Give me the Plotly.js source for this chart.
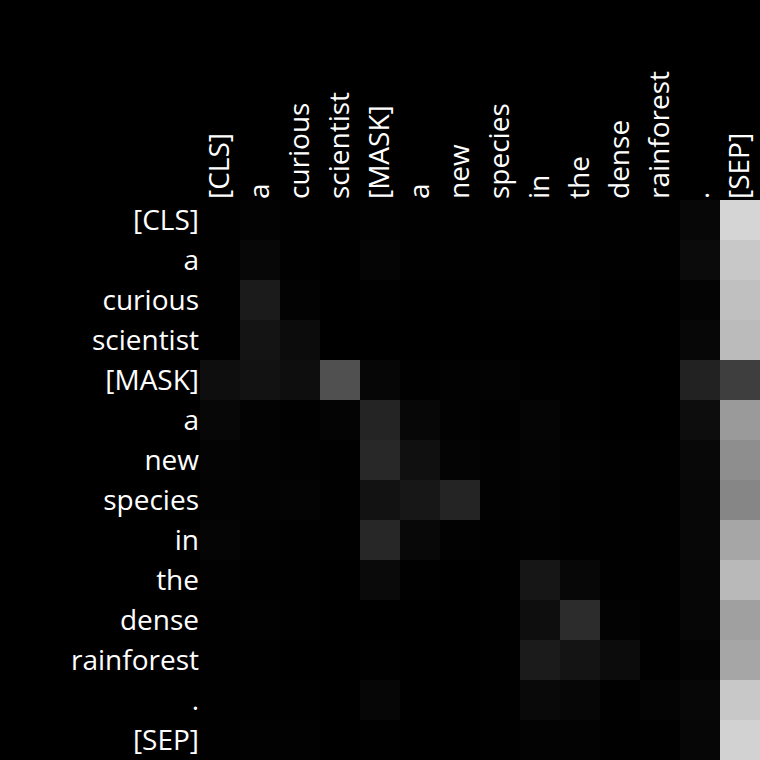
<!DOCTYPE html>
<html>
<head>
<meta charset="utf-8">
<script src="https://cdn.plot.ly/plotly-3.0.1.min.js"></script>
<style>html,body{margin:0;padding:0;background:#000;}#chart{width:760px;height:760px;}</style>
</head>
<body>
<div id="chart"></div>
<script>
const tokens = ["[CLS]","a","curious","scientist","[MASK]","a","new","species","in","the","dense","rainforest",".","[SEP]"];
const positions = [0,1,2,3,4,5,6,7,8,9,10,11,12,13];

// attention weights (row = query token, column = key token)
const attention = [
  [0.004,0.012,0.004,0.004,0.008,0.004,0.004,0.004,0.004,0.004,0.004,0.004,0.027,0.835],
  [0.004,0.027,0.004,0.000,0.020,0.004,0.004,0.004,0.004,0.004,0.004,0.004,0.043,0.784],
  [0.004,0.106,0.012,0.000,0.004,0.000,0.000,0.004,0.004,0.008,0.000,0.000,0.016,0.753],
  [0.004,0.078,0.047,0.000,0.000,0.000,0.000,0.000,0.000,0.000,0.000,0.000,0.027,0.733],
  [0.055,0.071,0.055,0.314,0.024,0.004,0.008,0.012,0.004,0.004,0.000,0.000,0.133,0.243],
  [0.027,0.012,0.004,0.016,0.141,0.027,0.008,0.004,0.020,0.004,0.000,0.000,0.051,0.604],
  [0.016,0.012,0.008,0.004,0.157,0.063,0.016,0.008,0.016,0.008,0.004,0.004,0.031,0.557],
  [0.012,0.012,0.016,0.004,0.071,0.090,0.141,0.008,0.012,0.004,0.004,0.004,0.027,0.525],
  [0.020,0.008,0.004,0.004,0.153,0.031,0.008,0.004,0.008,0.004,0.004,0.004,0.027,0.651],
  [0.008,0.004,0.004,0.000,0.039,0.004,0.000,0.004,0.086,0.027,0.004,0.004,0.024,0.725],
  [0.004,0.008,0.004,0.000,0.000,0.000,0.000,0.004,0.055,0.173,0.012,0.004,0.024,0.627],
  [0.004,0.004,0.000,0.000,0.004,0.000,0.000,0.004,0.106,0.078,0.047,0.004,0.016,0.651],
  [0.004,0.004,0.004,0.000,0.024,0.000,0.000,0.004,0.035,0.024,0.004,0.016,0.027,0.784],
  [0.004,0.008,0.008,0.000,0.004,0.000,0.000,0.004,0.012,0.012,0.004,0.004,0.024,0.824]
];

const trace = {
  type: "heatmap",
  x: positions,
  y: positions,
  z: attention,
  zmin: 0,
  zmax: 1,
  colorscale: [[0, "#000000"], [1, "#ffffff"]],
  showscale: false,
  hoverinfo: "skip"
};

const layout = {
  width: 760,
  height: 760,
  paper_bgcolor: "#000000",
  plot_bgcolor: "#000000",
  margin: {l: 200, r: 0, t: 200, b: 0, pad: 0},
  font: {family: "Open Sans", color: "#ffffff", size: 28},
  xaxis: {
    side: "top",
    tickmode: "array",
    tickvals: positions,
    ticktext: tokens,
    tickangle: -90,
    ticks: "",
    showgrid: false,
    zeroline: false,
    showline: false,
    range: [-0.5, 13.5],
    tickfont: {family: "Open Sans", color: "#ffffff", size: 28}
  },
  yaxis: {
    tickmode: "array",
    tickvals: positions,
    ticktext: tokens,
    autorange: false,
    range: [13.5, -0.5],
    ticks: "",
    showgrid: false,
    zeroline: false,
    showline: false,
    tickfont: {family: "Open Sans", color: "#ffffff", size: 28}
  }
};

Plotly.newPlot("chart", [trace], layout, {displayModeBar: false, staticPlot: true});
</script>
</body>
</html>
